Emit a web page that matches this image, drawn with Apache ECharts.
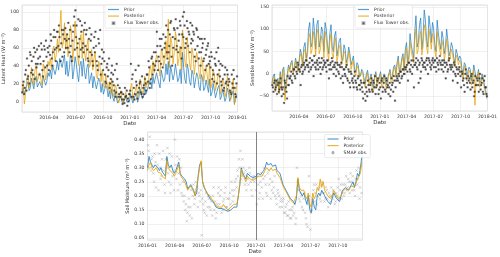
<!DOCTYPE html>
<html><head><meta charset="utf-8">
<script src="https://cdn.jsdelivr.net/npm/echarts@6/dist/echarts.min.js"></script>
<style>html,body{margin:0;padding:0;background:#fff}#c{width:500px;height:257px}</style>
</head><body><div id="c"></div>
<script>
// ---- tick labels (quarterly) ----
const xTickLabels = ['2016-01','2016-04','2016-07','2016-10','2017-01','2017-04','2017-07','2017-10','2018-01'];
const QUARTER_DAYS = 91.3125;   // spacing between quarterly ticks, in days since 2016-01-01

// ---- Latent heat (4-day steps from 2016-01-01) ----
const latentStep = 4;
const latentPrior = [10,15,8,9,18,22,12,15, 26,20,14,24,28,16,15, 22,18,15,28,30,18,22,32, 28,35,25,40,42,30,36,
 45,35,48,50,38,40,52,30, 45,28,35,52,48,25,35, 50,42,30,22,40,45,28,48, 32,25,38,42,20,22,32,15,
 28,30,14,12,26,22,10, 20,8,6,18,15,5,12,3, 14,4,0,10,8,-2,-3, 3,6,-2,-4,2,5,-1,0,
 0,8,10,-2,3,6,9,-1, 4,14,12,3,6,16,8, 12,10,22,25,14,28,20, 18,32,30,20,15,35,33,22,
 25,42,30,45,22,40,38,24, 30,42,40,22,26,36,20, 55,38,25,20,42,35,22,18, 35,30,15,14,32,28,16,12,
 30,26,12,15,24,22,10, 25,6,10,20,18,4,3,15, 18,2,5,14,12,0,4, 15,10,0,-2,8,12,-3,2,8];
const latentPosterior = [12,20,-3,8,25,30,15,22, 38,28,18,35,40,22,20, 32,25,18,42,38,24,30,45, 40,48,35,58,62,45,52,
 70,55,80,102,60,65,88,58, 75,50,62,85,78,45,60, 90,72,52,40,68,75,48,80, 55,45,62,70,38,42,58,35,
 48,55,28,25,45,40,22, 35,18,15,30,28,12,22,8, 25,10,5,18,15,2,-2, 8,12,0,-3,6,10,2,4,
 5,15,20,2,8,12,18,3, 10,25,20,8,12,28,15, 22,18,35,40,25,45,32, 30,52,48,35,28,58,55,40,
 45,68,50,92,38,72,65,42, 55,78,70,40,48,62,35, 80,65,45,38,72,58,42,35, 60,52,30,28,55,48,32,25,
 50,45,22,30,40,38,18, 42,15,20,35,30,12,10,28, 32,8,12,25,22,5,10, 28,20,5,2,15,25,-4,8,18];
const latentObsA = [10,22,15,35,48,28,20,52, 45,30,60,55,38,42,62, 50,65,35,45,58,68,40,55, 62,75,48,55,80,72,60,
 78,85,58,65,50,80,70,60, 75,88,55,62,45,78,95, 102,85,65,50,90,78,60,55, 88,75,58,45,82,68,52,40,
 72,78,45,35,65,80,42, 48,55,30,20,42,35,15,25, 40,30,12,5,42,18,8, 5,10,-3,2,15,6,-5,0,
 8,42,25,5,2,35,18,10, 15,22,8,5,18,25,12, 30,45,15,25,50,42,35, 55,78,35,45,62,70,38,50,
 65,85,48,55,75,90,40,60, 80,92,62,55,75,85,48, 95,100,60,70,82,78,55,65, 85,78,50,45,80,72,55,40,
 70,65,48,35,58,62,42, 45,55,25,30,48,40,20,60, 35,42,18,25,15,38,22, 30,25,12,8,20,35,15,5,28];
const latentObsB = [18,8,30,12,25,40,55,32, 35,50,25,42,58,48,30, 42,58,28,62,38,50,60,35, 52,68,40,72,58,45,78,
 62,72,45,80,75,55,82,68, 60,70,80,50,68,85,58, 72,60,92,70,58,85,65,80, 62,80,48,70,55,75,45,60,
 55,62,40,70,50,30,58, 35,45,22,38,28,48,20,32, 22,18,35,10,25,5,15, 10,2,8,-2,5,12,3,8,
 12,5,30,15,8,22,3,40, 20,10,28,15,8,20,30, 22,38,20,48,30,55,40, 45,62,50,70,42,58,75,60,
 72,55,80,62,88,50,72,82, 70,58,82,68,90,60,75, 72,85,65,90,62,75,88,70, 68,75,58,82,62,48,70,55,
 60,45,70,52,40,65,50, 38,50,35,22,42,55,30,45, 28,22,40,12,30,20,35, 18,22,10,30,15,25,8,20,35];

// ---- Sensible heat (4-day steps from 2016-01-01) ----
const sensiblePrior = [-20,-5,0,-30,-15,-10,-35,5, -25,10,15,-40,-20,0,20, 10,25,30,5,15,35,20,10, 30,55,45,20,60,70,35,
 50,100,115,60,70,125,95,55, 110,120,60,75,105,95,50, 115,100,65,45,90,110,60,50, 85,95,40,55,75,80,35,30,
 65,55,25,35,60,45,20, 30,40,10,5,25,20,0,-5, 10,5,-10,-20,0,8,-15, -10,0,-25,-30,-5,5,-20,-15,
 -5,5,-20,-15,0,2,-25,-10, 0,10,-10,-5,15,20,0, 25,40,5,15,35,45,10, 55,70,25,40,90,65,50,35,
 95,130,60,70,110,125,55,80, 143,120,75,60,130,105,70, 115,100,65,50,120,90,70,55, 95,80,45,60,100,75,40,50,
 70,60,35,25,55,45,30, 40,35,10,0,25,20,-5,5, 15,10,-15,-5,20,5,-10, -5,10,-20,-15,0,-10,-25,-35,-55];
const sensiblePosterior = [-25,-10,-5,-40,-20,-15,-45,0, -35,5,10,-60,-30,-10,15, 5,20,25,0,10,30,15,5, 25,45,38,15,50,55,28,
 40,80,90,45,55,95,75,40, 90,100,45,55,85,75,35, 95,80,50,30,72,90,45,35, 70,80,28,40,60,65,20,20,
 50,45,15,25,50,35,10, 22,30,2,-5,18,12,-8,-12, 5,0,-20,-30,-5,2,-25, -15,-5,-35,-40,-10,0,-30,-20,
 -10,0,-30,-25,-5,-2,-35,-20, -5,5,-20,-15,10,15,-8, 20,32,0,10,28,38,5, 45,58,18,30,72,50,38,25,
 75,100,45,55,85,95,42,60, 110,95,60,45,100,80,55, 90,80,50,38,95,70,55,42, 75,62,32,45,78,58,28,35,
 55,45,25,15,42,35,20, 30,25,0,-10,18,12,-15,-5, 8,2,-25,-15,10,-70,-5, -10,5,-30,-25,-5,-15,-35,-40,-50];
const sensibleObsA = [-25,-40,-15,-30,-45,-20,-35,-10, -50,-30,-65,-20,-40,-5,-25, -10,5,-20,10,-5,15,0,20, 10,-25,20,5,25,15,30,
 20,5,35,15,30,-5,25,10, 30,10,25,0,35,15,20, 25,5,30,-10,20,10,28,0, 15,-5,25,5,20,-10,15,-20,
 10,-5,20,-15,5,-30,0, -10,-30,5,-20,-35,-5,-25,-15, -30,-55,-20,-60,-40,-15,-35, -25,-10,-40,-20,-5,-30,-15,-45,
 -20,-55,-10,-30,-5,-40,-15,-25, -30,-50,-10,-20,-5,-60,-15, -10,0,-20,5,-5,10,0, 10,20,-15,25,5,30,15,-30,
 20,35,10,-20,25,5,30,15, 25,10,35,0,30,15,20, 35,15,30,5,25,10,40,20, 30,5,25,-10,20,10,35,15,
 20,-15,25,0,15,-20,10, 5,-30,0,-10,-40,10,-20,-5, -10,-35,0,-20,-50,-5,-25, -15,-40,0,-25,-10,-45,-5,-30,-50];
const sensibleObsB = [-30,-20,-35,-15,-25,-40,-20,-30, -35,-45,-15,-30,-55,-25,-10, -5,-15,0,10,-10,5,25,10, 5,15,0,20,10,30,20,
 15,25,10,30,20,40,15,25, 20,35,15,25,10,30,25, 15,30,20,10,25,35,15,20, 25,10,20,0,15,25,-5,10,
 0,15,-10,10,-20,5,-15, -20,-5,-15,-30,-10,-25,-35,-20, -40,-20,-45,-30,-50,-25,-40, -20,-35,-15,-30,-45,-25,-10,-35,
 -30,-15,-40,-20,-35,-10,-30,-45, -20,-35,-25,-40,-15,-30,-5, -15,-5,5,-10,10,0,15, 15,5,25,10,20,0,30,20,
 25,15,30,20,-10,35,20,25, 15,30,20,35,25,10,30, 25,30,15,35,20,30,25,10, 20,30,15,25,5,30,20,10,
 15,5,20,-5,10,0,15, -5,5,-15,-25,0,-10,-30,-15, -20,-5,-30,-15,-40,-25,-10, -25,-10,-35,-20,-40,-15,-30,-45,-35];
const obsStartA = 1, obsStartB = 3;

// ---- Soil moisture (5-day steps from 2016-01-01) ----
const soilStep = 5;
const soilPrior = [0.30,0.34,0.32,0.31,0.30,0.31,0.315,0.30,0.29,0.30,0.285,0.28,0.27,0.34,0.31,0.30,0.31,0.29,0.28,0.29,
 0.29,0.32,0.28,0.27,0.265,0.26,0.25,0.225,0.23,0.24,0.23,0.22,0.20,0.21,0.27,0.31,0.32,0.25,0.23,0.22,
 0.21,0.20,0.19,0.185,0.18,0.17,0.16,0.165,0.155,0.16,0.155,0.16,0.15,0.15,0.145,0.14,0.15,0.145,0.16,0.155,
 0.16,0.20,0.24,0.30,0.28,0.27,0.26,0.28,0.275,0.27,0.27,0.265,0.27,0.27,0.28,0.28,0.275,0.28,0.29,0.30,
 0.32,0.31,0.31,0.315,0.305,0.30,0.31,0.29,0.285,0.28,0.26,0.24,0.23,0.22,0.21,0.20,0.19,0.185,0.18,0.17,
 0.19,0.26,0.22,0.21,0.20,0.21,0.19,0.17,0.20,0.15,0.14,0.19,0.16,0.15,0.20,0.21,0.20,0.22,0.21,0.20,
 0.19,0.18,0.18,0.17,0.19,0.21,0.20,0.19,0.185,0.18,0.20,0.22,0.22,0.23,0.225,0.22,0.22,0.24,0.25,0.23,
 0.25,0.28,0.27,0.30,0.34];
const soilPosterior = [0.29,0.31,0.32,0.30,0.29,0.29,0.30,0.285,0.28,0.28,0.27,0.265,0.26,0.325,0.30,0.29,0.29,0.28,0.27,0.28,
 0.28,0.31,0.275,0.265,0.26,0.25,0.245,0.22,0.225,0.235,0.225,0.215,0.20,0.205,0.265,0.30,0.325,0.25,0.235,0.22,
 0.21,0.205,0.20,0.19,0.185,0.175,0.165,0.17,0.16,0.165,0.16,0.17,0.16,0.155,0.15,0.15,0.16,0.155,0.17,0.165,
 0.17,0.20,0.24,0.295,0.275,0.265,0.25,0.27,0.265,0.26,0.26,0.255,0.26,0.265,0.27,0.27,0.265,0.27,0.275,0.29,
 0.30,0.295,0.29,0.30,0.29,0.285,0.295,0.28,0.275,0.265,0.25,0.235,0.225,0.215,0.205,0.195,0.185,0.18,0.175,0.17,
 0.20,0.265,0.23,0.22,0.215,0.22,0.20,0.19,0.21,0.17,0.16,0.21,0.19,0.20,0.23,0.22,0.26,0.23,0.25,0.22,
 0.21,0.20,0.195,0.19,0.20,0.22,0.21,0.20,0.19,0.185,0.20,0.215,0.22,0.225,0.22,0.22,0.215,0.235,0.24,0.23,
 0.245,0.26,0.255,0.28,0.32];
const smapObsA = [0.38,0.41,0.29,0.34,0.25,0.32, 0.38,0.22,0.30,0.27,0.36,0.24, 0.33,0.37,0.25,0.21,0.34,0.29, 0.40,0.26,0.22,0.33,0.30,0.20,
 0.18,0.15,0.11,0.16,0.13,0.22, 0.20,0.17,0.25,0.23,0.21,0.18, 0.06,0.17,0.14,0.21,0.16,0.19, 0.15,0.13,0.23,0.18,0.14,0.21,
 0.17,0.22,0.15,0.19,0.23,0.16, 0.15,0.21,0.25,0.18,0.22,0.26, 0.29,0.33,0.36,0.27,0.30,0.24, 0.22,0.26,0.30,0.25,0.20,0.27,
 0.26,0.17,0.24,0.21,0.28,0.19, 0.30,0.24,0.20,0.29,0.26,0.22, 0.21,0.27,0.19,0.22,0.20,0.18, 0.16,0.19,0.14,0.17,0.13,0.15,
 0.12,0.16,0.14,0.10,0.30,0.22, 0.18,0.20,0.15,0.21,0.12,0.09, 0.27,0.08,0.15,0.22,0.18,0.24, 0.20,0.23,0.18,0.25,0.21,0.19,
 0.22,0.16,0.20,0.23,0.19,0.21, 0.18,0.20,0.26,0.22,0.19,0.24, 0.21,0.27,0.23,0.25,0.28,0.22, 0.24,0.20,0.29,0.26,0.19,0.35];
const smapObsB = [0.36,0.30,0.33,0.28,0.35,0.23, 0.31,0.35,0.26,0.33,0.29,0.21, 0.30,0.28,0.35,0.24,0.27,0.22, 0.31,0.34,0.28,0.24,0.21,0.25,
 0.20,0.17,0.14,0.19,0.16,0.12, 0.24,0.19,0.22,0.16,0.20,0.22, 0.19,0.15,0.18,0.13,0.20,0.16, 0.18,0.20,0.15,0.12,0.17,0.23,
 0.20,0.14,0.18,0.21,0.16,0.19, 0.19,0.17,0.22,0.20,0.25,0.23, 0.27,0.30,0.26,0.33,0.28,0.29, 0.27,0.24,0.28,0.22,0.26,0.25,
 0.22,0.27,0.19,0.25,0.23,0.26, 0.27,0.21,0.28,0.24,0.19,0.25, 0.23,0.20,0.17,0.21,0.16,0.19, 0.18,0.14,0.16,0.13,0.18,0.12,
 0.15,0.13,0.17,0.12,0.25,0.19, 0.21,0.16,0.19,0.14,0.10,0.17, 0.20,0.14,0.19,0.24,0.21,0.17, 0.22,0.19,0.24,0.21,0.18,0.23,
 0.19,0.21,0.18,0.20,0.22,0.17, 0.21,0.23,0.19,0.24,0.21,0.20, 0.24,0.22,0.26,0.21,0.25,0.27, 0.22,0.26,0.24,0.30,0.23,0.21];
const smapStartA = 2, smapStartB = 4;
const yearBoundaryDay = 366; // 2017-01-01

function pairs(vals, start, step){ return vals.map((v,i)=>[start+i*step, v]); }

const BLUE = '#1f7dc2', ORANGE = '#e69f00';
const FONT = 'DejaVu Sans';
const tick = {fontSize:4.6, color:'#3a3a3a', fontFamily:FONT};
const grid = (l,t,w,h)=>({left:l, top:t, width:w, height:h, show:true, borderColor:'#d4d4d4', borderWidth:0.7, backgroundColor:'#fff', containLabel:false, outerBoundsMode:'none'});

function xAxisFor(g, max, showMax){
  return {type:'value', gridIndex:g, min:0, max:max, interval:QUARTER_DAYS,
    axisLine:{show:false}, axisTick:{show:false},
    splitLine:{show:true, lineStyle:{color:'#e6e6e6', width:0.6}},
    axisLabel:Object.assign({margin:3, showMinLabel:g===2, showMaxLabel:showMax,
      formatter:v=>xTickLabels[Math.round(v/QUARTER_DAYS)]||''}, tick),
    name:'Date', nameLocation:'middle', nameGap:9, nameTextStyle:{fontSize:5.5, color:'#333', fontFamily:FONT}};
}
function yAxisFor(g, min, max, split, name, fmt, gap){
  return {type:'value', gridIndex:g, min:min, max:max, splitNumber:split,
    axisLine:{show:false}, axisTick:{show:false},
    splitLine:{show:true, lineStyle:{color:'#e6e6e6', width:0.6}},
    axisLabel:Object.assign({margin:3, showMinLabel:false, showMaxLabel:false, formatter:fmt}, tick),
    name:name, nameLocation:'middle', nameRotate:90, nameGap:gap,
    nameTextStyle:{fontSize:5, color:'#333', fontFamily:FONT}};
}
function lineSeries(name, g, data, color, width, extra){
  return Object.assign({type:'line', name:name, xAxisIndex:g, yAxisIndex:g, data:data, symbol:'none', showSymbol:false,
    lineStyle:{color:color, width:width, opacity:0.92}, itemStyle:{color:color}, z:2}, extra||{});
}
const squareObs = {symbol:'rect', symbolSize:1.7, symbolKeepAspect:true,
  itemStyle:{color:'#1e1e1e', borderColor:'rgba(110,110,110,0.7)', borderWidth:0.5, opacity:0.85}};
const xMark = 'path://M0,0L10,10M10,0L0,10';
const smapStyle = {symbol:xMark, symbolSize:2.5, symbolKeepAspect:true,
  itemStyle:{color:'rgba(0,0,0,0)', borderColor:'#8a8a8a', borderWidth:0.5, opacity:0.7}};

// legend icons: bounding box 22x8 maps onto itemWidth 11 x itemHeight 4
const ICON_LINE = 'path://M0,0M0,2.8H22V5.2H0ZM22,8';
const ICON_SQUARE = 'path://M0,0M9.3,2.3H12.7V5.7H9.3ZM22,8';
const ICON_X = 'path://M0,0M9,2L13,6M13,2L9,6M22,8';

function legendAt(l, t, obsName, obsIcon){
  return {orient:'vertical', left:l, top:t, itemWidth:11, itemHeight:4, itemGap:1.6, padding:[2,3,2,2],
    backgroundColor:'rgba(255,255,255,0.85)', borderColor:'#d8d8d8', borderWidth:0.5, borderRadius:1.5,
    textStyle:{fontSize:4.6, color:'#333', fontFamily:FONT, lineHeight:4}, selectedMode:false,
    data:[{name:'Prior', icon:ICON_LINE, itemStyle:{color:BLUE, opacity:0.75}},
          {name:'Posterior', icon:ICON_LINE, itemStyle:{color:ORANGE, opacity:0.75}},
          {name:obsName, icon:obsIcon}]};
}
function scatter(name, g, data, style, z){
  return Object.assign({type:'scatter', name:name, xAxisIndex:g, yAxisIndex:g, data:data, z:z}, style);
}

const option = {
  animation:false,
  backgroundColor:'#fff',
  grid:[grid(22,5,215.5,107), grid(272,5,215.5,106), grid(147.5,132,215,108)],
  xAxis:[xAxisFor(0, 8*QUARTER_DAYS, true), xAxisFor(1, 8*QUARTER_DAYS, true), xAxisFor(2, 722, false)],
  yAxis:[
    yAxisFor(0, -12, 108, 5, 'Latent Heat (W m⁻²)', v=>String(v), 12),
    yAxisFor(1, -83, 154, 5, 'Sensible Heat (W m⁻²)', v=>v<0?'\u2212'+Math.abs(v):String(v), 13),
    yAxisFor(2, 0.043, 0.427, 8, 'Soil Moisture (m³ m⁻³)', v=>v.toFixed(2), 15)
  ],
  legend:[
    legendAt(105, 5, 'Flux Tower obs.', ICON_SQUARE),
    legendAt(355, 5, 'Flux Tower obs.', ICON_SQUARE),
    legendAt(324.5, 134.5, 'SMAP obs.', ICON_X)
  ],
  series:[
    lineSeries('Prior', 0, pairs(latentPrior,0,latentStep), BLUE, 0.8),
    lineSeries('Posterior', 0, pairs(latentPosterior,0,latentStep), ORANGE, 0.8),
    scatter('Flux Tower obs.', 0, pairs(latentObsA,obsStartA,latentStep), squareObs, 3),
    scatter('Flux Tower obs.', 0, pairs(latentObsB,obsStartB,latentStep), squareObs, 3),
    lineSeries('Prior', 1, pairs(sensiblePrior,0,latentStep), BLUE, 0.8),
    lineSeries('Posterior', 1, pairs(sensiblePosterior,0,latentStep), ORANGE, 0.8),
    scatter('Flux Tower obs.', 1, pairs(sensibleObsA,obsStartA,latentStep), squareObs, 3),
    scatter('Flux Tower obs.', 1, pairs(sensibleObsB,obsStartB,latentStep), squareObs, 3),
    scatter('SMAP obs.', 2, pairs(smapObsA,smapStartA,soilStep), smapStyle, 1),
    scatter('SMAP obs.', 2, pairs(smapObsB,smapStartB,soilStep), smapStyle, 1),
    lineSeries('Prior', 2, pairs(soilPrior,0,soilStep), BLUE, 0.9, {
      markLine:{silent:true, symbol:'none', label:{show:false}, animation:false,
        lineStyle:{color:'#555', width:0.7, type:'solid', opacity:1}, data:[{xAxis:yearBoundaryDay}]}}),
    lineSeries('Posterior', 2, pairs(soilPosterior,0,soilStep), ORANGE, 0.9)
  ]
};
const chart = echarts.init(document.getElementById('c'), null, {renderer:'canvas'});
chart.setOption(option);
</script></body></html>
